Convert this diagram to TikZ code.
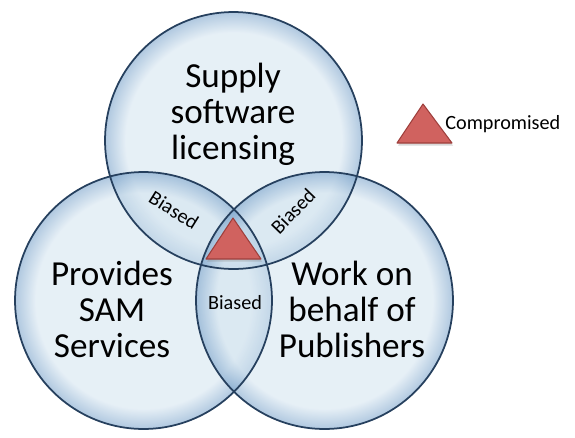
\documentclass[tikz,border=0pt]{standalone}
\usepackage{fontspec}
\setmainfont{Carlito}
\usetikzlibrary{shadows}
\definecolor{vennfill}{HTML}{D2E3EF}
\definecolor{vennrim}{HTML}{6F9BC6}
\definecolor{vennline}{HTML}{26405E}
\definecolor{warnred}{HTML}{D0625F}
\definecolor{warnline}{HTML}{9E3F3C}
\pgfdeclareradialshading{vennglow}{\pgfpoint{0bp}{0bp}}{color(0bp)=(vennfill);
  color(21bp)=(vennfill);color(25bp)=(vennrim);color(50bp)=(vennrim)}
\tikzset{line width=.8pt,
  ring/.style={shading=vennglow,fill opacity=.55},
  outline/.style={draw=vennline,line width=1pt},
  bigtext/.style={align=center,font=\fontsize{20}{20.5}\selectfont},
  smalltext/.style={font=\fontsize{11.5}{12}\selectfont,inner sep=1pt},
  warn/.style={fill=warnred,draw=warnline,line width=.6pt,line join=round,
    drop shadow={opacity=.3,shadow xshift=.6pt,shadow yshift=-1.5pt}}}

\begin{document}
\begin{tikzpicture}[x=.02cm,y=-.02cm]
\path[use as bounding box] (0,0) rectangle (575,437);
\coordinate (topc) at (233.5,140.5);\coordinate (leftc) at (143.5,300.5);\coordinate (rightc) at (324.5,300.5);
\foreach \c in {topc,leftc,rightc} \shade[ring] (\c) circle[radius=2.57cm];
\foreach \c in {topc,leftc,rightc} \draw[outline] (\c) circle[radius=2.57cm];
% labels of the three sets
\node[bigtext] (supply) at (233,114) {Supply\\software\\licensing};
\node[bigtext] (sam) at (112,309) {Provides\\SAM\\Services};
\node[bigtext] (publish) at (352,309) {Work on\\behalf of\\Publishers};
% overlaps
\node[smalltext,rotate=-32] (biasleft) at (174,210) {Biased};
\node[smalltext,rotate=46] (biasright) at (293,211) {Biased};
\node[smalltext] (biaslow) at (235,303) {Biased};
\draw[warn] (206,259) -- (233,218) -- (261,259) -- cycle;
% legend
\draw[warn] (397,143) -- (423,104) -- (452,143) -- cycle;
\node[smalltext,anchor=west,inner sep=0pt] (legend) at (445,124) {Compromised};
\end{tikzpicture}
\end{document}
